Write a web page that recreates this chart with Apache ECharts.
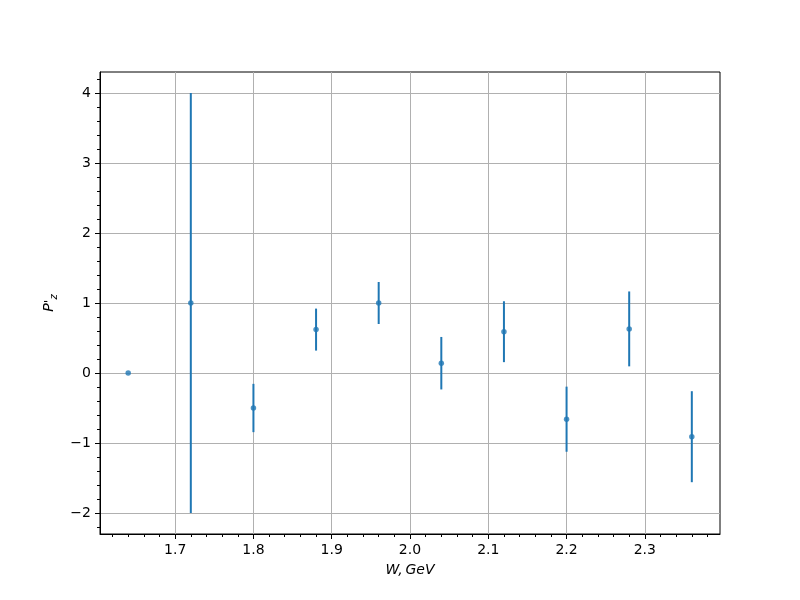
<!DOCTYPE html>
<html>
<head>
<meta charset="utf-8">
<script src="https://cdn.jsdelivr.net/npm/echarts@6/dist/echarts.min.js"></script>
<style>html,body{margin:0;padding:0;background:#fff}#c{width:800px;height:600px}</style>
</head>
<body>
<div id="c"></div>
<script>
const wValues = [1.64, 1.72, 1.80, 1.88, 1.96, 2.04, 2.12, 2.20, 2.28, 2.36];
const pzValues = [0.0, 1.0, -0.50, 0.62, 1.0, 0.14, 0.59, -0.66, 0.63, -0.91];
const pzErrors = [0.0, 3.0, 0.345, 0.30, 0.30, 0.375, 0.435, 0.465, 0.535, 0.65];
const xMajorTicks = [1.7, 1.8, 1.9, 2.0, 2.1, 2.2, 2.3];
const xMinorTicks = [1.62, 1.64, 1.66, 1.68, 1.72, 1.74, 1.76, 1.78, 1.82, 1.84, 1.86, 1.88, 1.92, 1.94, 1.96, 1.98, 2.02, 2.04, 2.06, 2.08, 2.12, 2.14, 2.16, 2.18, 2.22, 2.24, 2.26, 2.28, 2.32, 2.34, 2.36, 2.38];
const yMajorTicks = [-2, -1, 0, 1, 2, 3, 4];
const yMinorTicks = [-2.2, -1.8, -1.6, -1.4, -1.2, -0.8, -0.6, -0.4, -0.2, 0.2, 0.4, 0.6, 0.8, 1.2, 1.4, 1.6, 1.8, 2.2, 2.4, 2.6, 2.8, 3.2, 3.4, 3.6, 3.8, 4.2];

// matplotlib-like 5% margins
const xLo = Math.min(...wValues), xHi = Math.max(...wValues);
const yLo = Math.min(...pzValues.map((v, i) => v - pzErrors[i]));
const yHi = Math.max(...pzValues.map((v, i) => v + pzErrors[i]));
const xMin = xLo - 0.05 * (xHi - xLo), xMax = xHi + 0.05 * (xHi - xLo);
const yMin = yLo - 0.05 * (yHi - yLo), yMax = yHi + 0.05 * (yHi - yLo);

const FONT = 'DejaVu Sans';
const blue = '#1f77b4';
const fmtMinus = s => String(s).replace('-', '\u2212');

const chart = echarts.init(document.getElementById('c'), null, {renderer: 'canvas'});
const triples = wValues.map((w, i) => [w, pzValues[i], pzErrors[i]]);

chart.setOption({
  animation: false,
  backgroundColor: '#fff',
  grid: {left: 100, right: 80, top: 72, bottom: 66, show: true, borderColor: '#000', borderWidth: 1, backgroundColor: 'transparent'},
  xAxis: [
    {
      type: 'value', min: xMin, max: xMax, splitNumber: 8, position: 'bottom',
      axisLine: {show: true, onZero: false, lineStyle: {color: '#000', width: 1}},
      axisTick: {show: true, length: 5, lineStyle: {color: '#000'}, customValues: xMajorTicks},
      axisLabel: {customValues: xMajorTicks, color: '#000', fontFamily: FONT, fontSize: 14, margin: 9, formatter: v => v.toFixed(1)},
      splitLine: {show: true, lineStyle: {color: '#b0b0b0', width: 1}},
      name: '{i|W,\u2009GeV}', nameLocation: 'middle', nameGap: 29,
      nameTextStyle: {rich: {i: {fontFamily: FONT, fontSize: 14, fontStyle: 'italic', color: '#000'}}}
    },
    {
      type: 'value', min: xMin, max: xMax, position: 'bottom', gridIndex: 0,
      axisLine: {show: false, onZero: false},
      axisTick: {show: true, length: 3, lineStyle: {color: '#000'}, customValues: xMinorTicks},
      axisLabel: {show: false},
      splitLine: {show: false}
    }
  ],
  yAxis: [
    {
      type: 'value', min: yMin, max: yMax, splitNumber: 7, position: 'left',
      axisLine: {show: true, onZero: false, lineStyle: {color: '#000', width: 1}},
      axisTick: {show: true, length: 5, lineStyle: {color: '#000'}, customValues: yMajorTicks},
      axisLabel: {customValues: yMajorTicks, color: '#000', fontFamily: FONT, fontSize: 14, margin: 9, formatter: v => fmtMinus(Math.round(v))},
      splitLine: {show: true, lineStyle: {color: '#b0b0b0', width: 1}},
      name: "{p|P}{q|'}{z|z}", nameLocation: 'middle', nameGap: 37, nameRotate: 90,
      nameTextStyle: {rich: {
        p: {fontFamily: FONT, fontSize: 14, fontStyle: 'italic', color: '#000', lineHeight: 20, verticalAlign: 'middle'},
        q: {fontFamily: FONT, fontSize: 13, fontStyle: 'italic', color: '#000', verticalAlign: 'middle', lineHeight: 20},
        z: {fontFamily: FONT, fontSize: 10, fontStyle: 'italic', color: '#000', verticalAlign: 'bottom', lineHeight: 20}
      }}
    },
    {
      type: 'value', min: yMin, max: yMax, position: 'left', gridIndex: 0,
      axisLine: {show: false, onZero: false},
      axisTick: {show: true, length: 3, lineStyle: {color: '#000'}, customValues: yMinorTicks},
      axisLabel: {show: false},
      splitLine: {show: false}
    }
  ],
  series: [
    {
      type: 'custom', xAxisIndex: 0, yAxisIndex: 0, data: triples, z: 3,
      encode: {x: 0, y: 1},
      renderItem: (params, api) => {
        const x = api.value(0), y = api.value(1), e = api.value(2);
        const a = api.coord([x, y - e]), b = api.coord([x, y + e]);
        return {type: 'line', shape: {x1: a[0], y1: a[1], x2: b[0], y2: b[1]}, style: {stroke: blue, lineWidth: 2}};
      }
    },
    {
      type: 'scatter', xAxisIndex: 0, yAxisIndex: 0, z: 4,
      data: wValues.map((w, i) => [w, pzValues[i]]),
      symbol: 'circle', symbolSize: 5.5, itemStyle: {color: blue}
    }
  ]
});
</script>
</body>
</html>
